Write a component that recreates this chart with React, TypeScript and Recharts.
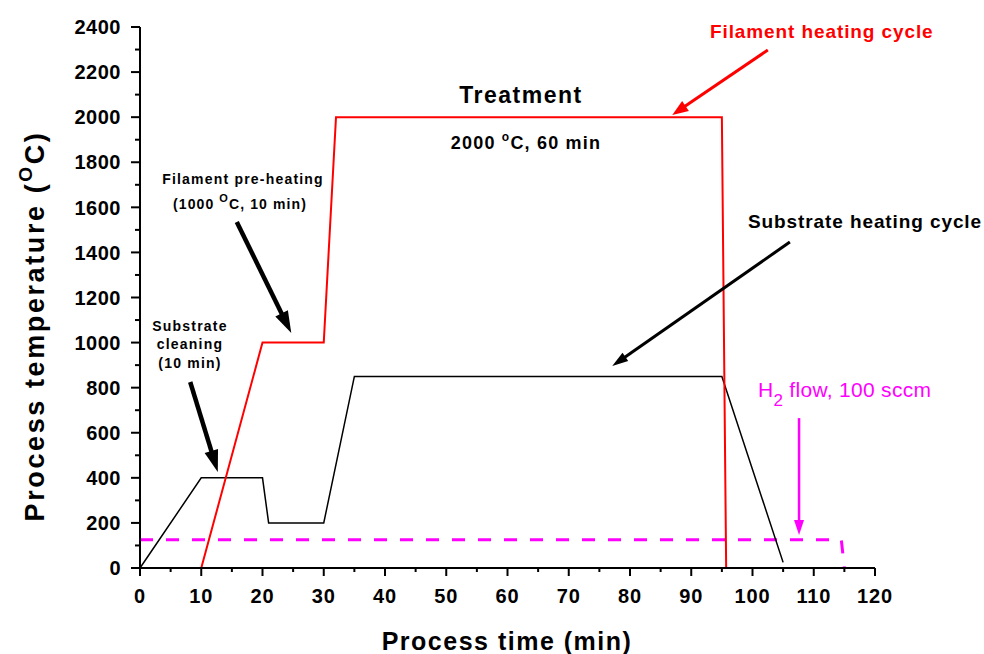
import React from 'react'
import { LineChart, Line, XAxis, YAxis, ReferenceLine } from 'recharts'

// filament heating cycle (min, °C)
const filamentTime = [10, 20, 30, 32, 95, 95.7]
const filamentTemp = [0, 1000, 1000, 2000, 2000, 0]

// substrate heating cycle
const substrateTime = [0, 2, 10, 20, 21, 30, 35, 95, 105]
const substrateTemp = [0, 80, 400, 400, 200, 200, 850, 850, 25]

// H2 flow marker
const h2Time = [0, 114.5, 115]
const h2Temp = [125, 125, 0]

const xTicks = [0, 5, 10, 15, 20, 25, 30, 35, 40, 45, 50, 55, 60, 65, 70, 75, 80, 85, 90, 95, 100, 105, 110, 115, 120]
const yTicks = [0, 100, 200, 300, 400, 500, 600, 700, 800, 900, 1000, 1100, 1200, 1300, 1400, 1500, 1600, 1700, 1800, 1900, 2000, 2100, 2200, 2300, 2400]

// annotation arrows: [fromX, fromY, toX, toY]
const arrows = [
    { from: [102.5, 2298], to: [86.9, 2010], color: '#FF0000', w: 3, head: 16, hw: 6 },
    { from: [15.8, 1535], to: [24.7, 1042], color: '#000', w: 4.5, head: 22, hw: 7 },
    { from: [8.2, 825], to: [12.7, 426], color: '#000', w: 4.5, head: 22, hw: 7 },
    { from: [106.1, 1446], to: [77.1, 896], color: '#000', w: 3, head: 16, hw: 5 },
    { from: [107.6, 665], to: [107.6, 146], color: '#FF00FF', w: 2.5, head: 15, hw: 5 },
]

const font = '"Liberation Sans", Arial, sans-serif'

const toPoints = (ts: number[], vs: number[]) => ts.map((t, i) => ({ t, v: vs[i] }))

const XTick = ({ x, y, payload }: any) => {
    const major = payload.value % 10 === 0
    return (
        <g>
            <line x1={x} x2={x} y1={y} y2={y + (major ? 8 : 4)} stroke="#000" strokeWidth={2} />
            {major && (
                <text x={x} y={y + 35} textAnchor="middle" fontFamily={font} fontWeight="bold" fontSize={20} letterSpacing={0.8} fill="#000">
                    {payload.value}
                </text>
            )}
        </g>
    )
}

const YTick = ({ x, y, payload }: any) => {
    const major = payload.value % 200 === 0
    return (
        <g>
            <line x1={x} x2={x - (major ? 9 : 5)} y1={y} y2={y} stroke="#000" strokeWidth={2} />
            {major && (
                <text x={x - 19} y={y} dy="0.36em" textAnchor="end" fontFamily={font} fontWeight="bold" fontSize={20} letterSpacing={0.5} fill="#000">
                    {payload.value}
                </text>
            )}
        </g>
    )
}

const Arrow = (p: any, a: any) => {
    const { x1, y1, x2, y2 } = p
    const dx = x2 - x1
    const dy = y2 - y1
    const len = Math.sqrt(dx * dx + dy * dy)
    const ux = dx / len
    const uy = dy / len
    const bx = x2 - ux * a.head
    const by = y2 - uy * a.head
    return (
        <g>
            <line x1={x1} y1={y1} x2={bx + ux * 2} y2={by + uy * 2} stroke={a.color} strokeWidth={a.w} />
            <polygon
                points={`${x2},${y2} ${bx - uy * a.hw},${by + ux * a.hw} ${bx + uy * a.hw},${by - ux * a.hw}`}
                fill={a.color}
            />
        </g>
    )
}

export default function App() {
    return (
        <div style={{ position: 'absolute', left: 0, top: 0, width: 984, height: 654, background: '#fff' }}>
            <LineChart width={984} height={654} margin={{ top: 27, right: 109, bottom: 36, left: 60 }}>
                <XAxis
                    type="number"
                    dataKey="t"
                    domain={[0, 120]}
                    ticks={xTicks}
                    interval={0}
                    tickSize={0}
                    tickMargin={0}
                    tickLine={false}
                    tick={<XTick />}
                    height={50}
                    axisLine={{ stroke: '#000', strokeWidth: 2 }}
                />
                <YAxis
                    type="number"
                    domain={[0, 2400]}
                    ticks={yTicks}
                    interval={0}
                    tickSize={0}
                    tickMargin={0}
                    tickLine={false}
                    tick={<YTick />}
                    width={80}
                    axisLine={{ stroke: '#000', strokeWidth: 2 }}
                />
                <Line
                    data={toPoints(h2Time, h2Temp)}
                    dataKey="v"
                    type="linear"
                    stroke="#FF00FF"
                    strokeWidth={3}
                    strokeDasharray="13 13"
                    dot={false}
                    isAnimationActive={false}
                />
                <Line
                    data={toPoints(substrateTime, substrateTemp)}
                    dataKey="v"
                    type="linear"
                    stroke="#000"
                    strokeWidth={1.5}
                    dot={false}
                    isAnimationActive={false}
                />
                <Line
                    data={toPoints(filamentTime, filamentTemp)}
                    dataKey="v"
                    type="linear"
                    stroke="#FF0000"
                    strokeWidth={2}
                    dot={false}
                    isAnimationActive={false}
                />
                {arrows.map((a, i) => (
                    <ReferenceLine
                        key={i}
                        segment={[{ x: a.from[0], y: a.from[1] }, { x: a.to[0], y: a.to[1] }]}
                        stroke={a.color}
                        shape={(p: any) => Arrow(p, a)}
                    />
                ))}
                <text
                    transform="translate(44, 326) rotate(-90)"
                    textAnchor="middle"
                    fontFamily={font}
                    fontWeight="bold"
                    fontSize={27}
                    letterSpacing={2.6}
                    fill="#000"
                >
                    Process temperature (<tspan fontSize={19} dy={-12}>O</tspan>
                    <tspan dy={12}>C)</tspan>
                </text>
                <text x={507} y={650} textAnchor="middle" fontFamily={font} fontWeight="bold" fontSize={25} letterSpacing={1.5} fill="#000">
                    Process time (min)
                </text>
                <text x={521} y={103} textAnchor="middle" fontFamily={font} fontWeight="bold" fontSize={23} letterSpacing={1.5} fill="#000">
                    Treatment
                </text>
                <text x={526} y={149} textAnchor="middle" fontFamily={font} fontWeight="bold" fontSize={18} letterSpacing={1.2} fill="#000">
                    2000 <tspan fontSize={12} dy={-8}>o</tspan>
                    <tspan dy={8}>C, 60 min</tspan>
                </text>
                <text x={710} y={38} fontFamily={font} fontWeight="bold" fontSize={19} letterSpacing={0.9} fill="#FF0000">
                    Filament heating cycle
                </text>
                <text x={748} y={228} fontFamily={font} fontWeight="bold" fontSize={19} letterSpacing={0.9} fill="#000">
                    Substrate heating cycle
                </text>
                <text x={243} y={184} textAnchor="middle" fontFamily={font} fontWeight="bold" fontSize={14} letterSpacing={1.2} fill="#000">
                    Filament pre-heating
                </text>
                <text x={240} y={209} textAnchor="middle" fontFamily={font} fontWeight="bold" fontSize={14} letterSpacing={1.1} fill="#000">
                    (1000 <tspan fontSize={11} dy={-7}>O</tspan>
                    <tspan dy={7}>C, 10 min)</tspan>
                </text>
                <text x={190} y={331} textAnchor="middle" fontFamily={font} fontWeight="bold" fontSize={14} letterSpacing={1.2} fill="#000">
                    Substrate
                </text>
                <text x={190} y={349} textAnchor="middle" fontFamily={font} fontWeight="bold" fontSize={14} letterSpacing={1.2} fill="#000">
                    cleaning
                </text>
                <text x={190} y={368} textAnchor="middle" fontFamily={font} fontWeight="bold" fontSize={14} letterSpacing={1.2} fill="#000">
                    (10 min)
                </text>
                <text x={758} y={397} fontFamily={font} fontSize={21} letterSpacing={0.3} fill="#FF00FF">
                    H<tspan fontSize={17} dy={9}>2</tspan>
                    <tspan dy={-9}> flow, 100 sccm</tspan>
                </text>
            </LineChart>
        </div>
    )
}
